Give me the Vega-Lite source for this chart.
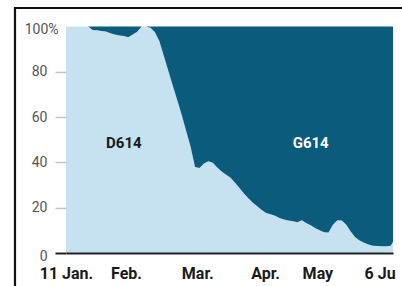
{
 "$schema": "https://vega.github.io/schema/vega-lite/v6.json",
 "width": 387, "height": 278,
 "autosize": {"type": "none"},
 "padding": {"left": 15, "top": 8, "right": 0, "bottom": 0},
 "background": "white",
 "config": {"view": {"stroke": "#111", "strokeWidth": 2.2, "strokeDash": [387, 665, 280, 20]}, "font": "Roboto"},
 "datasets": {
  "share": [
   {"date":"2020-01-11","D614":100,"G614":0},
   {"date":"2020-01-13","D614":100,"G614":0},
   {"date":"2020-01-15","D614":100,"G614":0},
   {"date":"2020-01-17","D614":100,"G614":0},
   {"date":"2020-01-19","D614":100,"G614":0},
   {"date":"2020-01-21","D614":100,"G614":0},
   {"date":"2020-01-23","D614":98.5,"G614":1.5},
   {"date":"2020-01-25","D614":98.3,"G614":1.7},
   {"date":"2020-01-27","D614":98,"G614":2},
   {"date":"2020-01-29","D614":97.8,"G614":2.2},
   {"date":"2020-01-31","D614":97,"G614":3},
   {"date":"2020-02-02","D614":96.5,"G614":3.5},
   {"date":"2020-02-04","D614":96,"G614":4},
   {"date":"2020-02-06","D614":95.8,"G614":4.2},
   {"date":"2020-02-08","D614":95.3,"G614":4.7},
   {"date":"2020-02-10","D614":96.5,"G614":3.5},
   {"date":"2020-02-12","D614":97.7,"G614":2.3},
   {"date":"2020-02-14","D614":100,"G614":0},
   {"date":"2020-02-16","D614":100,"G614":0},
   {"date":"2020-02-18","D614":99.5,"G614":0.5},
   {"date":"2020-02-20","D614":97.5,"G614":2.5},
   {"date":"2020-02-22","D614":93.5,"G614":6.5},
   {"date":"2020-02-24","D614":87,"G614":13},
   {"date":"2020-02-26","D614":80.5,"G614":19.5},
   {"date":"2020-02-28","D614":74,"G614":26},
   {"date":"2020-03-01","D614":67.5,"G614":32.5},
   {"date":"2020-03-03","D614":61,"G614":39},
   {"date":"2020-03-05","D614":54,"G614":46},
   {"date":"2020-03-07","D614":47,"G614":53},
   {"date":"2020-03-09","D614":38,"G614":62},
   {"date":"2020-03-11","D614":37.5,"G614":62.5},
   {"date":"2020-03-13","D614":39.5,"G614":60.5},
   {"date":"2020-03-15","D614":40.5,"G614":59.5},
   {"date":"2020-03-17","D614":39.8,"G614":60.2},
   {"date":"2020-03-19","D614":37.8,"G614":62.2},
   {"date":"2020-03-21","D614":36,"G614":64},
   {"date":"2020-03-23","D614":34.6,"G614":65.4},
   {"date":"2020-03-25","D614":33.2,"G614":66.8},
   {"date":"2020-03-27","D614":31,"G614":69},
   {"date":"2020-03-29","D614":28.7,"G614":71.3},
   {"date":"2020-03-31","D614":26.3,"G614":73.7},
   {"date":"2020-04-02","D614":24.2,"G614":75.8},
   {"date":"2020-04-04","D614":22.2,"G614":77.8},
   {"date":"2020-04-06","D614":20.6,"G614":79.4},
   {"date":"2020-04-08","D614":19,"G614":81},
   {"date":"2020-04-10","D614":17.7,"G614":82.3},
   {"date":"2020-04-12","D614":17.1,"G614":82.9},
   {"date":"2020-04-14","D614":16.4,"G614":83.6},
   {"date":"2020-04-16","D614":15.5,"G614":84.5},
   {"date":"2020-04-18","D614":14.8,"G614":85.2},
   {"date":"2020-04-20","D614":14.3,"G614":85.7},
   {"date":"2020-04-22","D614":14,"G614":86},
   {"date":"2020-04-24","D614":13.6,"G614":86.4},
   {"date":"2020-04-26","D614":14.5,"G614":85.5},
   {"date":"2020-04-28","D614":13.3,"G614":86.7},
   {"date":"2020-04-30","D614":12.3,"G614":87.7},
   {"date":"2020-05-02","D614":11,"G614":89},
   {"date":"2020-05-04","D614":10,"G614":90},
   {"date":"2020-05-06","D614":9.2,"G614":90.8},
   {"date":"2020-05-08","D614":9,"G614":91},
   {"date":"2020-05-10","D614":12.5,"G614":87.5},
   {"date":"2020-05-12","D614":14.5,"G614":85.5},
   {"date":"2020-05-14","D614":14.3,"G614":85.7},
   {"date":"2020-05-16","D614":12.5,"G614":87.5},
   {"date":"2020-05-18","D614":9.5,"G614":90.5},
   {"date":"2020-05-20","D614":7,"G614":93},
   {"date":"2020-05-22","D614":5.5,"G614":94.5},
   {"date":"2020-05-24","D614":4.5,"G614":95.5},
   {"date":"2020-05-26","D614":3.7,"G614":96.3},
   {"date":"2020-05-28","D614":3.2,"G614":96.8},
   {"date":"2020-05-30","D614":3.1,"G614":96.9},
   {"date":"2020-06-01","D614":3,"G614":97},
   {"date":"2020-06-03","D614":3,"G614":97},
   {"date":"2020-06-05","D614":3.2,"G614":96.8},
   {"date":"2020-06-06","D614":5,"G614":95}
  ],
  "labels": [
   {"date":"2020-02-06","pct":48.6,"label":"D614"},
   {"date":"2020-04-30","pct":48.6,"label":"G614"}
  ]
 },
 "layer": [
  {
   "data": {"name": "share"},
   "transform": [{"fold": ["D614", "G614"], "as": ["variant", "pct"]}],
   "mark": {"type": "area", "interpolate": "linear"},
   "encoding": {
    "x": {
     "field": "date", "type": "temporal",
     "scale": {"domain": [{"year":2020,"month":1,"date":11,"utc":true},{"year":2020,"month":6,"date":6,"utc":true}], "range": [51, 378]},
     "axis": {
      "values": [
       {"year":2020,"month":1,"date":11,"utc":true},
       {"year":2020,"month":2,"date":7,"utc":true},
       {"year":2020,"month":3,"date":10,"utc":true},
       {"year":2020,"month":4,"date":9,"hours":12,"utc":true},
       {"year":2020,"month":5,"date":3,"utc":true},
       {"year":2020,"month":5,"date":31,"utc":true}
      ],
      "labelExpr": "utcmonth(datum.value)==0 ? '11 Jan.' : utcmonth(datum.value)==1 ? 'Feb.' : utcmonth(datum.value)==2 ? 'Mar.' : utcmonth(datum.value)==3 ? 'Apr.' : (utcmonth(datum.value)==4 && utcdate(datum.value) < 20) ? 'May' : '6 Ju'",
      "title": null, "ticks": false, "grid": false,
      "domainColor": "#222", "domainWidth": 2,
      "labelFont": "Roboto", "labelFontWeight": "bold", "labelFontSize": 16, "labelColor": "#1a1a1a",
      "labelPadding": 12, "labelFlush": false, "labelOverlap": false, "labelBound": false,
      "offset": -33, "zindex": 1
     }
    },
    "y": {
     "field": "pct", "type": "quantitative", "stack": "zero",
     "scale": {"domain": [0, 100], "range": [245, 18.5], "nice": false},
     "axis": {
      "values": [0, 20, 40, 60, 80, 100],
      "labelExpr": "datum.value==100 ? '100%' : datum.label",
      "title": null, "domain": false, "grid": false,
      "tickSize": 11,
      "tickWidth": {"condition": {"test": "datum.value==0", "value": 2}, "value": 1.5},
      "tickColor": {"condition": {"test": "datum.value==0", "value": "#222"}, "value": "#c4c4c4"},
      "tickOpacity": {"condition": {"test": "datum.value==100", "value": 0}, "value": 1},
      "labelPadding": {"condition": {"test": "datum.value==100", "value": -3}, "value": 8},
      "labelOffset": {"condition": {"test": "datum.value==100 || datum.value==0", "value": 3}, "value": 0},
      "labelFont": "Roboto", "labelFontSize": 14, "labelColor": "#555",
      "labelFlush": false, "labelOverlap": false,
      "offset": -51, "zindex": 1
     }
    },
    "color": {"field": "variant", "type": "nominal", "scale": {"domain": ["D614", "G614"], "range": ["#c6e1ef", "#0b5b7d"]}, "legend": null},
    "order": {"field": "variant", "sort": "ascending"}
   }
  },
  {
   "data": {"name": "labels"},
   "mark": {"type": "text", "font": "Roboto", "fontWeight": "bold", "fontSize": 15},
   "encoding": {
    "x": {"field": "date", "type": "temporal"},
    "y": {"field": "pct", "type": "quantitative"},
    "text": {"field": "label"},
    "color": {"condition": {"test": "datum.label=='G614'", "value": "#ffffff"}, "value": "#1a1a1a"}
   }
  }
 ]
}
